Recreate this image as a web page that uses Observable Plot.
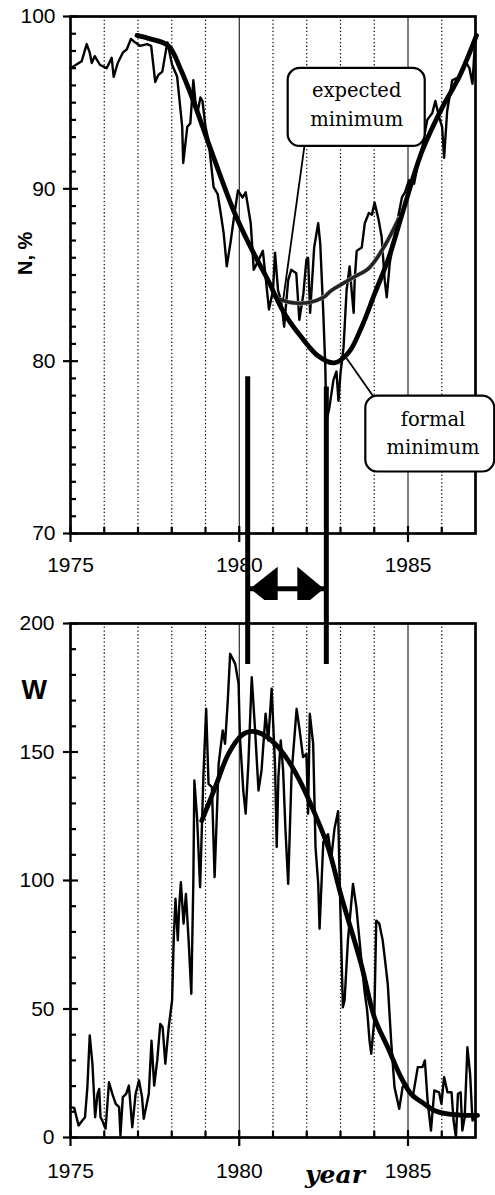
<!DOCTYPE html>
<html><head><meta charset="utf-8">
<script src="https://cdn.jsdelivr.net/npm/d3@7"></script>
<script src="https://cdn.jsdelivr.net/npm/@observablehq/plot@0.6"></script>
<style>
body{margin:0;background:#fff;}
#wrap{position:relative;width:495px;height:1195px;overflow:hidden;background:#fff;}
#top{position:absolute;left:0;top:0;}
#bot{position:absolute;left:0;top:600px;}
</style></head><body>
<div id="wrap"><div id="top"></div><div id="bot"></div></div>
<script>
// ---------- DATA ----------
// Top panel: N, % (thin monthly line)
const nYears = [1975.00,1975.33,1975.48,1975.57,1975.63,1975.72,1975.87,1976.07,1976.22,1976.28,1976.40,1976.55,1976.67,1976.79,1976.91,1977.06,1977.27,1977.39,1977.51,1977.60,1977.72,1977.87,1978.01,1978.16,1978.31,1978.34,1978.46,1978.55,1978.64,1978.70,1978.76,1978.85,1978.91,1979.00,1979.09,1979.24,1979.36,1979.45,1979.54,1979.63,1979.75,1979.84,1979.96,1980.10,1980.19,1980.34,1980.43,1980.58,1980.70,1980.79,1980.88,1981.00,1981.06,1981.15,1981.24,1981.33,1981.45,1981.54,1981.69,1981.78,1981.90,1981.99,1982.04,1982.10,1982.22,1982.34,1982.40,1982.49,1982.55,1982.58,1982.67,1982.79,1982.88,1982.94,1983.00,1983.09,1983.18,1983.27,1983.33,1983.39,1983.42,1983.48,1983.63,1983.72,1983.84,1983.93,1984.01,1984.13,1984.22,1984.31,1984.37,1984.46,1984.58,1984.73,1984.82,1984.91,1985.03,1985.18,1985.33,1985.42,1985.57,1985.72,1985.81,1985.93,1986.01,1986.07,1986.16,1986.31,1986.52,1986.70,1986.82,1986.91,1987.00];
const nValues = [97.0,97.4,98.4,97.9,97.3,97.7,97.2,97.0,97.6,96.5,97.3,97.9,98.1,98.7,98.5,98.3,98.4,98.3,96.2,96.6,96.8,98.5,97.2,96.5,93.6,91.5,93.6,93.8,96.3,95.1,94.4,95.3,95.1,93.6,92.8,90.1,89.7,88.6,87.4,85.5,87.0,88.3,89.9,89.5,89.8,88.0,85.3,85.9,86.4,84.7,83.0,84.1,86.3,84.1,83.5,82.0,84.7,85.3,85.1,82.4,83.9,85.9,86.0,82.8,86.6,88.0,86.8,82.8,79.7,76.5,77.3,78.9,79.4,77.7,79.3,80.8,84.1,85.5,84.1,82.8,84.7,86.4,86.6,88.0,88.6,88.5,89.2,88.2,87.2,84.7,83.7,85.7,87.0,88.6,89.5,89.8,90.5,90.3,91.8,92.4,94.0,94.4,95.1,94.1,93.6,91.8,94.5,96.3,96.5,97.4,97.0,96.1,99.0];
// Top panel: smooth (thick) curve
const nFitYears = [1976.97,1977.36,1977.90,1978.25,1978.64,1979.06,1979.45,1979.84,1980.34,1980.85,1981.33,1981.84,1982.34,1982.82,1983.24,1983.63,1984.01,1984.43,1984.82,1985.42,1986.01,1986.52,1987.03];
const nFitValues = [98.9,98.7,98.3,97.0,95.1,92.8,90.7,88.7,86.6,84.7,82.8,81.4,80.3,79.9,80.5,82.0,83.9,86.0,88.5,92.2,94.7,96.5,98.9];
// Top panel: expected trend (dotted grey)
const expYears = [1981.18,1981.54,1982.04,1982.49,1982.73,1983.42,1983.84,1984.31,1984.73];
const expValues = [83.6,83.4,83.4,83.7,84.1,84.9,85.4,86.7,88.3];

// Bottom panel: W (thin monthly line)
const wYears = [1975.00,1975.11,1975.24,1975.35,1975.43,1975.50,1975.57,1975.65,1975.73,1975.80,1975.85,1975.89,1975.94,1976.04,1976.14,1976.24,1976.34,1976.44,1976.48,1976.55,1976.65,1976.73,1976.83,1976.93,1977.03,1977.12,1977.17,1977.24,1977.32,1977.40,1977.48,1977.57,1977.66,1977.73,1977.81,1977.91,1978.01,1978.06,1978.11,1978.18,1978.22,1978.27,1978.35,1978.42,1978.50,1978.58,1978.64,1978.67,1978.75,1978.84,1978.94,1979.02,1979.09,1979.19,1979.27,1979.39,1979.51,1979.58,1979.66,1979.73,1979.88,1979.98,1980.02,1980.12,1980.19,1980.27,1980.37,1980.47,1980.57,1980.66,1980.78,1980.86,1980.96,1981.06,1981.11,1981.16,1981.23,1981.30,1981.37,1981.45,1981.55,1981.70,1981.79,1981.89,1981.99,1982.04,1982.09,1982.19,1982.26,1982.34,1982.38,1982.49,1982.63,1982.73,1982.82,1982.93,1982.97,1983.07,1983.12,1983.22,1983.37,1983.47,1983.61,1983.71,1983.79,1983.86,1983.91,1984.00,1984.06,1984.15,1984.25,1984.32,1984.40,1984.50,1984.60,1984.74,1984.84,1984.94,1985.14,1985.29,1985.43,1985.50,1985.58,1985.68,1985.78,1985.92,1985.99,1986.07,1986.17,1986.29,1986.35,1986.42,1986.48,1986.56,1986.61,1986.68,1986.76,1986.84,1986.91,1987.01];
const wValues = [11.8,11.5,4.7,6.6,7.9,19.6,39.7,28.7,7.9,17.0,18.9,7.9,6.6,3.4,21.5,17.0,13.1,11.8,0.8,15.7,17.0,20.2,4.0,17.0,22.2,15.7,7.3,11.8,17.0,37.7,20.2,30.0,44.2,42.9,28.7,43.0,53.3,77.9,92.9,76.7,89.6,99.3,83.2,94.8,76.7,55.9,100.0,138.9,124.6,97.4,141.5,166.8,137.6,136.3,101.3,145.4,158.4,153.2,170.0,188.2,184.3,176.5,155.8,135.0,126.0,145.4,179.1,158.4,135.0,142.8,164.9,154.5,174.6,145.0,113.0,140.2,154.5,142.8,119.5,98.7,141.5,166.8,158.4,148.0,149.3,126.0,164.9,153.2,113.0,98.7,81.2,115.0,118.0,109.0,120.0,127.0,102.6,50.7,53.3,76.7,98.7,89.6,70.2,57.2,49.4,37.7,32.6,45.5,84.4,83.2,76.7,68.9,59.8,37.7,19.6,11.2,19.6,21.0,15.7,27.4,27.4,30.0,14.4,2.7,18.3,17.6,13.1,23.5,17.6,17.6,6.6,0.1,17.0,17.6,2.7,7.9,35.1,24.8,6.6,7.9];
// Bottom panel: smooth (thick) curve
const wFitYears = [1978.89,1979.29,1979.68,1980.07,1980.37,1980.66,1981.06,1981.45,1981.84,1982.24,1982.63,1983.02,1983.61,1984.01,1984.40,1984.79,1985.09,1985.48,1985.78,1986.17,1986.76,1987.06];
const wFitValues = [123.3,136.3,149.3,156.5,158.0,157.1,153.2,146.7,137.6,126.0,113.0,94.0,67.6,46.5,35.1,23.5,17.0,13.1,10.5,9.2,8.6,8.6];

// Connecting bars (expected vs formal minimum) and arrow level
const barYears = [1980.25, 1982.58];
const barTopN = [79.1, 78.5];
const barBottomW = [184, 184];
const arrowLevelN = 66.8;

// Annotations (top panel)
const boxLabels = ["expected\nminimum", "formal\nminimum"];
const boxX1 = [1981.45, 1983.75], boxX2 = [1985.51, 1987.57];
const boxY1 = [92.46, 73.57], boxY2 = [96.99, 77.97];
const labelX = [1983.48, 1985.74], labelY = [95.02, 75.95];
const leaderX1 = [1981.93, 1983.99], leaderY1 = [92.46, 77.91];
const leaderX2 = [1981.30, 1983.18], leaderY2 = [83.54, 80.17];

// Axes
const xMajor = [1975, 1980, 1985];
const xMinor = [1976, 1977, 1978, 1979, 1981, 1982, 1983, 1984, 1986];
const gridDotted = [1976, 1977, 1978, 1979, 1981, 1982, 1983, 1984, 1986];
const gridSolid = [1980, 1985];
const nMajor = [70, 80, 90, 100];
const nMinor = d3.range(71, 100).filter(v => v % 10 !== 0);
const wMajor = [0, 50, 100, 150, 200];
const wMinor = d3.range(10, 200, 10).filter(v => v % 50 !== 0);

// ---------- DRAW ----------
const zip = (a, b) => a.map((t, i) => ({t, v: b[i]}));
const sans = "'Liberation Sans', Arial, Helvetica, sans-serif";
const serif = "'DejaVu Serif', 'Liberation Serif', serif";
const WIDTH = 495, ML = 70, MR = 20;
const PW = WIDTH - ML - MR;

const leftHead = {draw(ctx) { ctx.moveTo(2.5, 0); ctx.lineTo(30, -22); ctx.lineTo(30, 22); ctx.closePath(); }};
const rightHead = {draw(ctx) { ctx.moveTo(-2.5, 0); ctx.lineTo(-29, -22); ctx.lineTo(-29, 22); ctx.closePath(); }};

const bars = barYears.map((t, i) => ({t, top: barTopN[i], bottom: barBottomW[i]}));
const boxes = boxLabels.map((s, i) => ({s, x1: boxX1[i], x2: boxX2[i], y1: boxY1[i], y2: boxY2[i], lx: labelX[i], ly: labelY[i]}));
const leaders = leaderX1.map((x, i) => ({x1: x, y1: leaderY1[i], x2: leaderX2[i], y2: leaderY2[i]}));

const axisMarks = (yMajor, yMinor, PH, yPad, xPad) => [
  Plot.ruleX(gridDotted, {strokeWidth: 1.2, strokeDasharray: "1.3,2.4"}),
  Plot.ruleX(gridSolid, {strokeWidth: 1}),
  Plot.tickY(yMinor, {insetRight: PW - 6, strokeWidth: 2.2}),
  Plot.tickY(yMajor, {insetLeft: -7, insetRight: PW - 8, strokeWidth: 2.2}),
  Plot.tickX(xMinor, {insetTop: PH - 6, strokeWidth: 2.2}),
  Plot.tickX(xMajor, {insetTop: PH - 7, insetBottom: -9, strokeWidth: 2.2}),
  Plot.axisY({ticks: yMajor, tickSize: 0, tickPadding: yPad, fontSize: 21, label: null}),
  Plot.axisX({ticks: xMajor, tickSize: 0, tickPadding: xPad, fontSize: 21, tickFormat: "d", label: null})
];

// Top panel
const topH = 600, topMT = 16, topMB = 67;
const topPH = topH - topMT - topMB;
const topPlot = Plot.plot({
  width: WIDTH, height: topH, marginLeft: ML, marginRight: MR, marginTop: topMT, marginBottom: topMB,
  style: {fontFamily: sans, overflow: "hidden", background: "white", color: "black"},
  x: {domain: [1975, 1987]},
  y: {domain: [70, 100]},
  marks: [
    ...axisMarks(nMajor, nMinor, topPH, 15, 24),
    Plot.line(zip(nYears, nValues), {x: "t", y: "v", strokeWidth: 2.4, strokeLinejoin: "round"}),
    Plot.line(zip(expYears, expValues), {x: "t", y: "v", stroke: "#b0b0b0", strokeWidth: 4.5, curve: "catmull-rom"}),
    Plot.line(zip(expYears, expValues), {x: "t", y: "v", stroke: "#222", strokeWidth: 3.5, strokeDasharray: "1.3,1.7", curve: "catmull-rom"}),
    Plot.line(zip(nFitYears, nFitValues), {x: "t", y: "v", strokeWidth: 4.8, curve: "catmull-rom"}),
    Plot.frame({strokeWidth: 2.7}),
    Plot.ruleX(bars, {x: "t", y1: "top", y2: () => 60, strokeWidth: 5}),
    Plot.ruleY([arrowLevelN], {x1: barYears[0], x2: barYears[1], strokeWidth: 5}),
    Plot.dot([barYears[0]], {x: d => d, y: () => arrowLevelN, symbol: leftHead, fill: "black", r: 10}),
    Plot.dot([barYears[1]], {x: d => d, y: () => arrowLevelN, symbol: rightHead, fill: "black", r: 10}),
    Plot.link(leaders, {x1: "x1", y1: "y1", x2: "x2", y2: "y2", strokeWidth: 1.8}),
    Plot.rect(boxes, {x1: "x1", x2: "x2", y1: "y1", y2: "y2", rx: 12, ry: 12, fill: "white", stroke: "black", strokeWidth: 2.2}),
    Plot.text(boxes, {x: "lx", y: "ly", text: "s", fontFamily: serif, fontSize: 19.5, lineHeight: 1.46, fill: "black"}),
    Plot.text(["N, %"], {frameAnchor: "left", dx: -45, rotate: -90, fontWeight: "bold", fontSize: 20})
  ]
});
document.getElementById("top").appendChild(topPlot);

// Bottom panel
const botH = 595, botMT = 23, botMB = 58;
const botPH = botH - botMT - botMB;
const botPlot = Plot.plot({
  width: WIDTH, height: botH, marginLeft: ML, marginRight: MR, marginTop: botMT, marginBottom: botMB,
  style: {fontFamily: sans, overflow: "hidden", background: "white", color: "black"},
  x: {domain: [1975, 1987]},
  y: {domain: [0, 200]},
  marks: [
    ...axisMarks(wMajor, wMinor, botPH, 16, 26),
    Plot.line(zip(wYears, wValues), {x: "t", y: "v", strokeWidth: 2.4, strokeLinejoin: "round"}),
    Plot.line(zip(wFitYears, wFitValues), {x: "t", y: "v", strokeWidth: 4.8, curve: "catmull-rom"}),
    Plot.frame({strokeWidth: 2.7}),
    Plot.ruleX(bars, {x: "t", y1: "bottom", y2: () => 260, strokeWidth: 5}),
    Plot.text(["W"], {frameAnchor: "top-left", dx: -49, dy: 56, fontWeight: "bold", fontSize: 27}),
    Plot.text(["year"], {frameAnchor: "bottom", dx: 62, dy: 45, fontFamily: serif, fontStyle: "italic", fontWeight: "bold", fontSize: 25})
  ]
});
document.getElementById("bot").appendChild(botPlot);
</script>
</body></html>
